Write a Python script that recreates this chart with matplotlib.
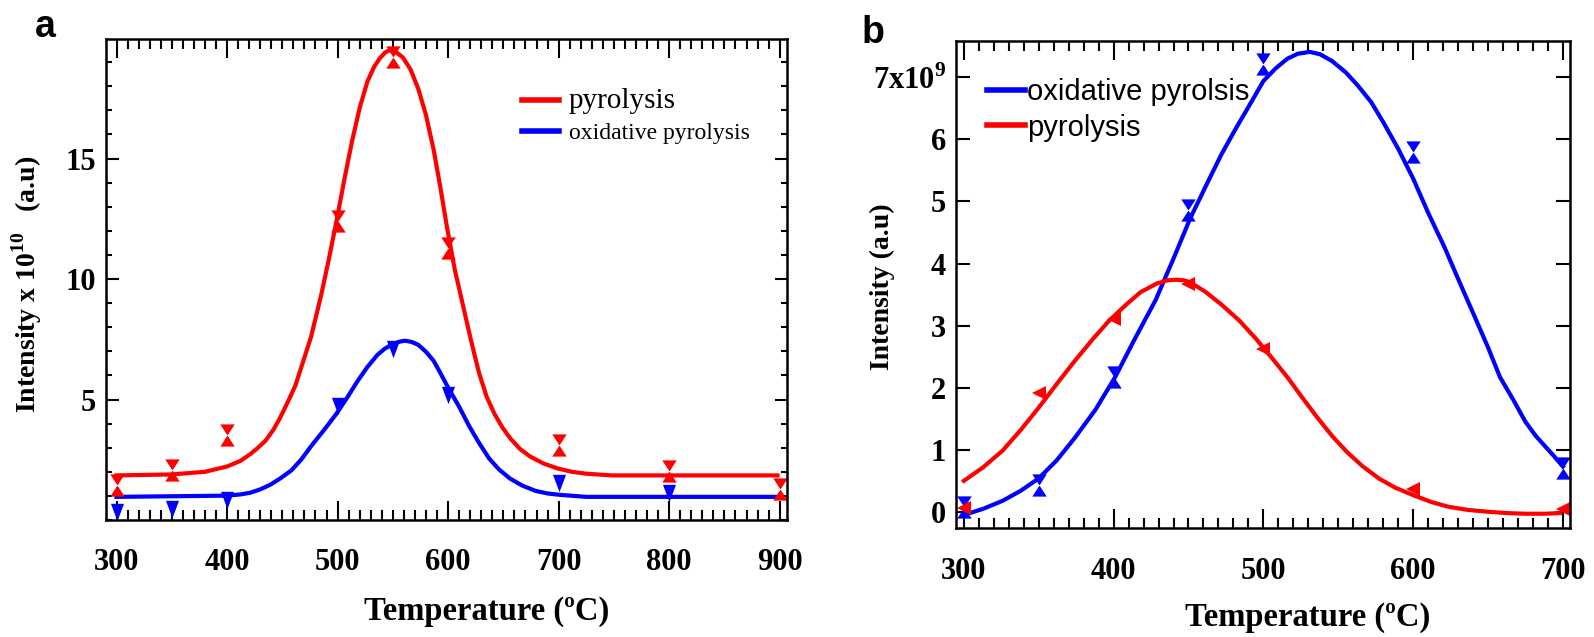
import matplotlib
matplotlib.use("Agg")
import matplotlib.pyplot as plt
from matplotlib.path import Path
from matplotlib.ticker import MultipleLocator

plt.rcParams['font.family'] = 'serif'
plt.rcParams['font.serif'] = ['Liberation Serif', 'DejaVu Serif']
plt.rcParams['font.weight'] = 'bold'
plt.rcParams['mathtext.fontset'] = 'custom'
plt.rcParams['mathtext.rm'] = 'Liberation Serif:bold'
plt.rcParams['mathtext.bf'] = 'Liberation Serif:bold'

RED = '#ff0000'
BLUE = '#0000ff'

# ---- panel a: measured points ----
temp_a_pyro = [300, 350, 400, 500, 550, 600, 700, 800, 900]
pyro_a = [1.46, 2.09, 3.52, 12.4, 19.2, 11.3, 3.11, 2.05, 1.3]
temp_a_oxi = [300, 350, 400, 500, 550, 600, 700, 800]
oxi_a = [0.34, 0.47, 0.84, 4.75, 7.1, 5.17, 1.55, 1.13]

# ---- panel a: fitted curves ----
fit_a_pyro_t = [300, 350, 380, 400, 412, 421, 428, 435, 442, 448, 455, 462, 469, 476,
                485, 492, 499, 506, 513, 520, 527, 533, 538, 543, 547, 552, 559, 566,
                573, 580, 587, 593, 599, 606, 614, 621, 628, 635, 642, 649, 656, 665,
                674, 686, 699, 712, 725, 748, 898]
fit_a_pyro = [1.85, 1.89, 2.0, 2.22, 2.45, 2.73, 3.0, 3.3, 3.75, 4.24, 4.9, 5.6, 6.6, 7.6,
              9.3, 10.8, 12.4, 14.1, 15.7, 17.1, 18.2, 18.8, 19.15, 19.4, 19.5, 19.45, 19.2, 18.7,
              17.9, 16.8, 15.35, 13.8, 12.15, 10.4, 8.8, 7.4, 6.1, 5.1, 4.4, 3.85, 3.4, 2.95,
              2.64, 2.35, 2.14, 2.0, 1.92, 1.85, 1.85]
fit_a_oxi_t = [300, 400, 412, 421, 430, 439, 448, 458, 467, 476, 488, 499, 509, 518,
               527, 536, 543, 550, 556, 561, 567, 573, 580, 587, 593, 600, 610, 619,
               628, 637, 646, 656, 667, 679, 690, 702, 725, 898]
fit_a_oxi = [0.96, 1.01, 1.06, 1.13, 1.27, 1.46, 1.72, 2.05, 2.5, 3.06, 3.75, 4.41, 5.1, 5.76,
             6.35, 6.85, 7.12, 7.3, 7.4, 7.44, 7.39, 7.27, 6.98, 6.6, 6.1, 5.5, 4.7, 3.9,
             3.2, 2.56, 2.1, 1.72, 1.43, 1.21, 1.1, 1.04, 0.96, 0.96]

# ---- panel b: measured points ----
temp_b = [300, 350, 400, 450, 500, 600, 700]
oxi_b = [0.08, 0.44, 2.17, 4.86, 7.21, 5.79, 0.70]
pyro_b = [0.07, 1.91, 3.1, 3.67, 2.63, 0.37, 0.05]

# ---- panel b: fitted curves ----
fit_b_oxi_t = [300, 313, 326, 338, 350, 362, 374, 388, 401, 414, 428, 440, 451, 462,
               472, 481, 489, 500, 508, 516, 523, 531, 538, 546, 555, 563, 572, 580,
               590, 600, 610, 621, 631, 641, 650, 658, 667, 675, 682, 688, 694, 700]
fit_b_oxi = [-0.05, 0.05, 0.18, 0.34, 0.54, 0.83, 1.19, 1.65, 2.17, 2.78, 3.41, 4.08, 4.72, 5.27,
             5.76, 6.15, 6.48, 6.94, 7.14, 7.30, 7.38, 7.41, 7.37, 7.26, 7.08, 6.87, 6.6, 6.28,
             5.85, 5.37, 4.82, 4.26, 3.7, 3.15, 2.65, 2.17, 1.8, 1.45, 1.22, 1.06, 0.9, 0.73]
fit_b_pyro_t = [300, 313, 326, 338, 350, 362, 374, 386, 397, 408, 418, 429, 436, 442,
                447, 451, 461, 472, 484, 495, 505, 516, 526, 536, 546, 556, 566, 577,
                588, 600, 612, 624, 637, 651, 663, 675, 688, 698]
fit_b_pyro = [0.50, 0.72, 0.99, 1.32, 1.68, 2.06, 2.43, 2.78, 3.08, 3.33, 3.54, 3.68, 3.73, 3.74,
              3.73, 3.70, 3.55, 3.34, 3.08, 2.79, 2.5, 2.17, 1.84, 1.52, 1.22, 0.96, 0.74, 0.54,
              0.39, 0.27, 0.16, 0.08, 0.03, 0.0, -0.02, -0.03, -0.03, -0.02]

# custom markers
M, L, C = Path.MOVETO, Path.LINETO, Path.CLOSEPOLY
hourglass = Path([(-0.65, 1), (0.65, 1), (0, 0), (-0.65, 1),
                  (-0.65, -1), (0.65, -1), (0, 0), (-0.65, -1)],
                 [M, L, L, C, M, L, L, C])
tri_down = Path([(-0.75, 1), (0.75, 1), (0, -1), (-0.75, 1)], [M, L, L, C])


def style(ax, ymaj, ymin=None):
    for s in ax.spines.values():
        s.set_linewidth(1.8)
    ax.xaxis.set_major_locator(MultipleLocator(100))
    ax.xaxis.set_minor_locator(MultipleLocator(10))
    ax.set_yticks(ymaj)
    if ymin:
        ax.yaxis.set_minor_locator(MultipleLocator(ymin))
    ax.tick_params(which='both', direction='in', top=True, right=True, width=1.5)
    ax.tick_params(axis='x', which='major', length=14, labelsize=22)
    ax.tick_params(axis='x', which='minor', length=7)
    ax.tick_params(axis='y', which='major', length=9, labelsize=22, pad=7)
    ax.tick_params(axis='y', which='minor', length=4.5)


fig = plt.figure(figsize=(15.94, 6.37), dpi=100)

# panel a
ax = fig.add_axes([0.0665, 0.1837, 0.4275, 0.7546])
ax.plot(fit_a_pyro_t, fit_a_pyro, color=RED, lw=3, label='pyrolysis')
ax.plot(fit_a_oxi_t, fit_a_oxi, color=BLUE, lw=3, label='oxidative pyrolysis')
ax.plot(temp_a_pyro, pyro_a, ls='none', marker=hourglass, ms=16, color=RED, mew=0)
ax.plot(temp_a_oxi, oxi_a, ls='none', marker=tri_down, ms=12.5, color=BLUE, mew=0)
ax.set_xlim(290.5, 907)
ax.set_ylim(0.0, 19.95)
style(ax, [5, 10, 15], 1)
ax.tick_params(axis='x', which='major', pad=20)
ax.set_xlabel('Temperature (ºC)', fontsize=23.5, fontweight='bold')
ax.xaxis.set_label_coords(0.559, -0.19)
ax.xaxis.label.set_va('center')
ax.set_ylabel(r'Intensity x 10$^{\mathbf{10}}$   (a.u)', fontsize=20, fontweight='bold')
ax.yaxis.set_label_coords(-0.116, 0.49)
ax.yaxis.label.set_va('center')
leg = ax.legend(loc='upper left', bbox_to_anchor=(0.61, 0.898), frameon=False,
                borderpad=0, borderaxespad=0,
                prop={'family': 'Liberation Serif', 'weight': 'normal', 'size': 17},
                handlelength=1.6, handletextpad=0.4, labelspacing=0.35)
leg.get_texts()[0].set_fontsize(21)
for ln in leg.get_lines():
    ln.set_linewidth(4)
fig.text(35 / 1594, 1 - 37 / 637, 'a', fontsize=27, fontweight='bold',
         family='Liberation Sans', ha='left', va='baseline')

# panel b
bx = fig.add_axes([0.5997, 0.1711, 0.3852, 0.765])
bx.plot(fit_b_oxi_t, fit_b_oxi, color=BLUE, lw=3, label='oxidative pyrolsis')
bx.plot(fit_b_pyro_t, fit_b_pyro, color=RED, lw=3, label='pyrolysis')
bx.plot(temp_b, oxi_b, ls='none', marker=hourglass, ms=16, color=BLUE, mew=0)
bx.plot(temp_b, pyro_b, ls='none', marker='<', ms=10.5, color=RED, mew=0)
bx.set_xlim(294.7, 704.7)
bx.set_ylim(-0.26, 7.59)
style(bx, list(range(8)))
bx.set_yticklabels(['0', '1', '2', '3', '4', '5', '6', r'7x10$^{\mathbf{9}}$'])
bx.tick_params(axis='y', which='major', length=10)
bx.tick_params(axis='x', which='major', pad=21)
bx.set_xlabel('Temperature (ºC)', fontsize=23.5, fontweight='bold')
bx.xaxis.set_label_coords(0.573, -0.183)
bx.xaxis.label.set_va('center')
bx.set_ylabel('Intensity (a.u)', fontsize=20, fontweight='bold')
bx.yaxis.set_label_coords(-0.119, 0.495)
bx.yaxis.label.set_va('center')
leg = bx.legend(loc='upper left', bbox_to_anchor=(0.05, 0.923), frameon=False,
                borderpad=0, borderaxespad=0,
                prop={'family': 'Liberation Sans', 'weight': 'normal', 'size': 21},
                handlelength=1.3, handletextpad=0.1, labelspacing=0.25)
for ln in leg.get_lines():
    ln.set_linewidth(4)
fig.text(862 / 1594, 1 - 43 / 637, 'b', fontsize=27, fontweight='bold',
         family='Liberation Sans', ha='left', va='baseline')

fig.savefig('out.png', dpi=100)
